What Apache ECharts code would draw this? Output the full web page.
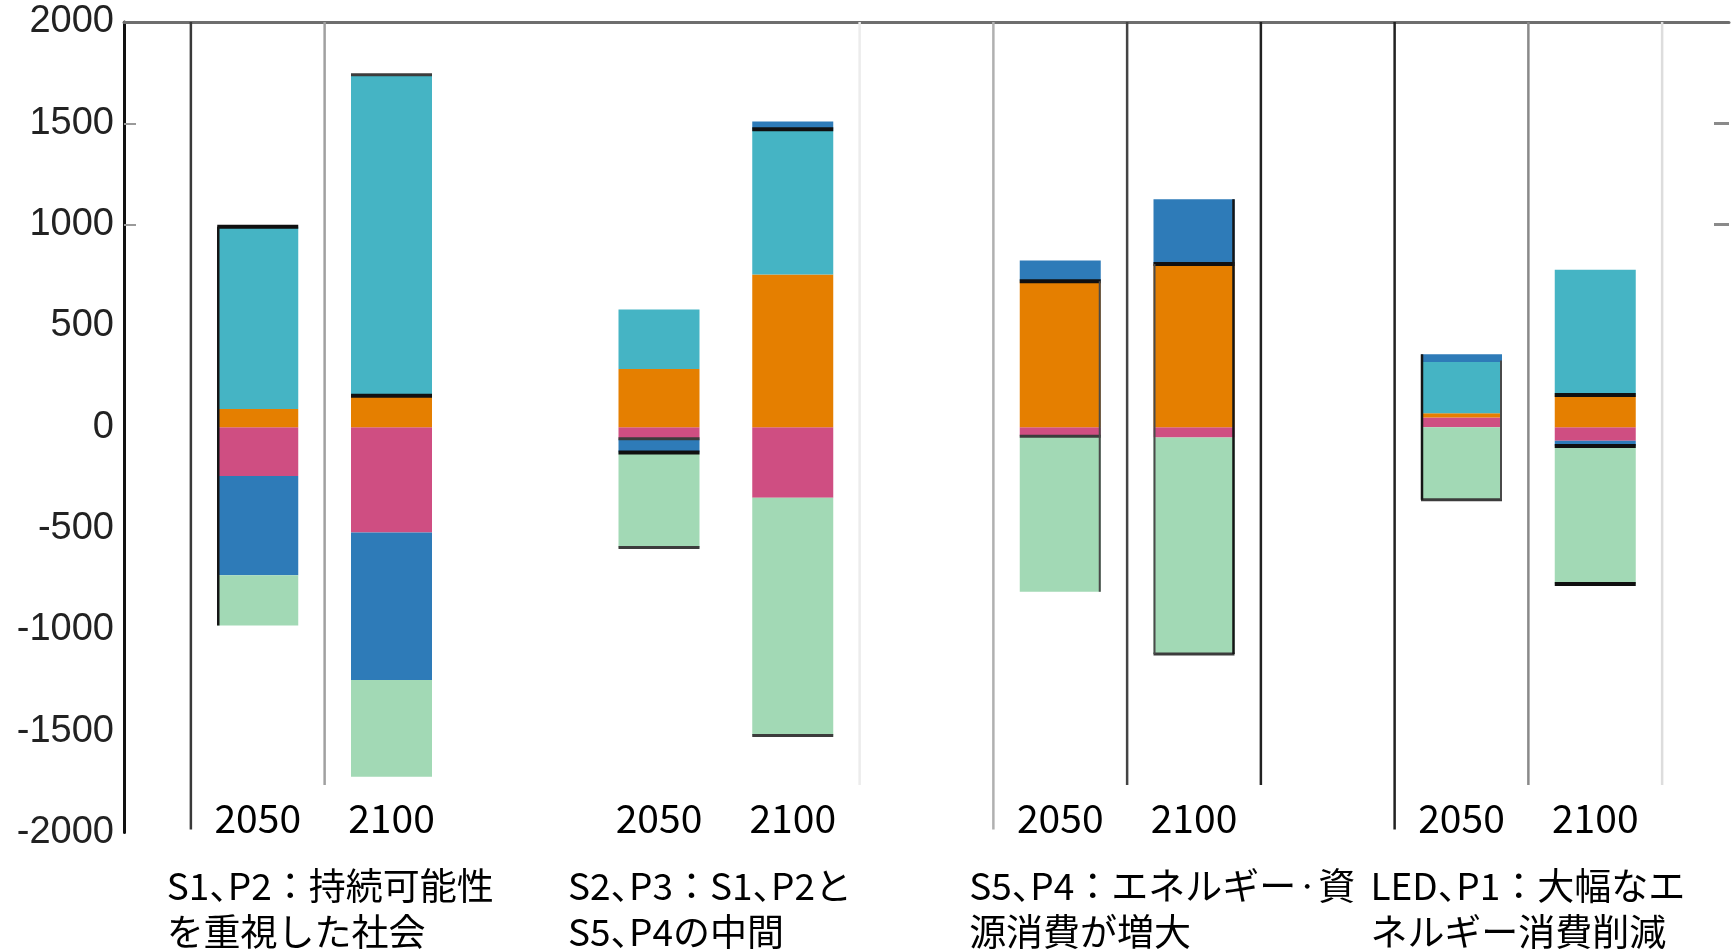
<!DOCTYPE html>
<html>
<head>
<meta charset="utf-8">
<script src="https://cdn.jsdelivr.net/npm/echarts@6/dist/echarts.min.js"></script>
<style>
html,body{margin:0;padding:0;background:#ffffff;}
#chart{width:1732px;height:950px;}
</style>
</head>
<body>
<div id="chart"></div>
<script>
// ---------------- data ----------------
// slot tick labels (empty slots separate the scenario groups)
const slotLabels = ['', '2050', '2100', '', '2050', '2100', '', '2050', '2100', '', '2050', '2100', ''];
const scenarioNames = [
  'S1、P2：持続可能性\nを重視した社会',
  'S2、P3：S1、P2と\nS5、P4の中間',
  'S5、P4：エネルギー・資\n源消費が増大',
  'LED、P1：大幅なエ\nネルギー消費削減'
];
const yTickValues = [-2000, -1500, -1000, -500, 0, 500, 1000, 1500, 2000];

// values per bar: S1-2050, S1-2100, S2-2050, S2-2100, S5-2050, S5-2100, LED-2050, LED-2100
const foodCrops   = [-240, -520,  -57, -348,  -44,   -51,   48,  -67];
const energyCrops = [  90,  155,  287,  754,  721,   806,   21,  159];
const forest      = [ 900, 1585,  294,  717,    0,     0,  253,  618];
const pasture     = [-490, -727,  -68,   38,  102,   319,   38,  -25];
const otherLand   = [-248, -478, -468, -1173, -768, -1068, -358, -682];

// dark outline levels drawn on the bars: [bar index, value]
const outlineStrong = [[0, 990], [1, 155], [2, -125], [3, 1471], [4, 721], [5, 806], [7, 159], [7, -92], [7, -774]];
const outlineSoft   = [[1, 1740], [2, -57], [2, -593], [3, -1521], [4, -44], [5, -1119], [6, -358]];
// dark bar edges: [bar index, side(-1 left / 1 right), from value, to value]
const edgeStrong = [[0, -1, 990, -978], [5, 1, 1125, -1119], [6, -1, 360, -358]];
const edgeSoft   = [[4, 1, 721, -812], [5, -1, 806, -1119], [6, 1, 330, -358]];

// panel separators (slot boundaries) and how far down they reach
const separatorX      = [0.5, 1.5, 5.5, 6.5, 7.5, 8.5, 9.5, 10.5, 11.5];
const separatorBottom = [-1985, -1765, -1765, -1985, -1765, -1765, -1985, -1765, -1765];

// ---------------- styles ----------------
const segmentColors = ['#CF4E82', '#E57F00', '#45B4C4', '#2E7BB8', '#A2D9B5'];
const segmentNames = ['食料・飼料作物', 'エネルギー作物', '森林', '牧草地', 'その他の自然地'];
const separatorColors = ['#3a3a3a', '#a0a0a0', '#ececec', '#b0b0b0', '#444444', '#222222', '#222222', '#8a8a8a', '#dddddd'];
const BAR_W = 81;
const NAME_FS = 37;

// ---------------- build ----------------
const barSlotIndex = slotLabels.map((s, i) => (s ? i : -1)).filter(i => i >= 0);
function toSlots(values) {
  const arr = slotLabels.map(() => null);
  barSlotIndex.forEach((slot, k) => { arr[slot] = values[k]; });
  return arr;
}
const segmentData = [foodCrops, energyCrops, forest, pasture, otherLand];

const barSeries = segmentData.map((vals, i) => ({
  type: 'bar',
  name: segmentNames[i],
  stack: 'landuse',
  stackStrategy: 'samesign',
  xAxisIndex: 0,
  yAxisIndex: 0,
  barWidth: BAR_W,
  silent: true,
  itemStyle: { color: segmentColors[i] },
  data: toSlots(vals)
}));

function hLineSeries(list, color, width) {
  return {
    type: 'custom', xAxisIndex: 1, yAxisIndex: 0, silent: true, z: 5,
    data: list.map(d => [barSlotIndex[d[0]], d[1]]),
    renderItem: function (params, api) {
      const p = api.coord([api.value(0), api.value(1)]);
      return { type: 'line', shape: { x1: p[0] - BAR_W / 2, y1: p[1], x2: p[0] + BAR_W / 2, y2: p[1] },
        style: { stroke: color, lineWidth: width } };
    }
  };
}
function vEdgeSeries(list, color, width) {
  return {
    type: 'custom', xAxisIndex: 1, yAxisIndex: 0, silent: true, z: 5,
    data: list.map(d => [barSlotIndex[d[0]], d[2], d[3], d[1]]),
    renderItem: function (params, api) {
      const a = api.coord([api.value(0), api.value(1)]);
      const b = api.coord([api.value(0), api.value(2)]);
      const x = a[0] + api.value(3) * (BAR_W / 2 - 1);
      return { type: 'line', shape: { x1: x, y1: a[1], x2: x, y2: b[1] },
        style: { stroke: color, lineWidth: width } };
    }
  };
}

const separatorSeries = {
  type: 'custom', xAxisIndex: 1, yAxisIndex: 0, silent: true, z: 1,
  data: separatorX.map((x, i) => [x, separatorBottom[i]]),
  renderItem: function (params, api) {
    const top = api.coord([api.value(0), yTickValues[yTickValues.length - 1]]);
    const bot = api.coord([api.value(0), api.value(1)]);
    return { type: 'line', shape: { x1: top[0], y1: top[1], x2: bot[0], y2: bot[1] },
      style: { stroke: separatorColors[params.dataIndex], lineWidth: 2.5 } };
  }
};

// turn a scenario name into rich tokens (narrow Japanese comma / middle dot like the original font)
function richLine(line) {
  let out = '', buf = '';
  const flush = () => { if (buf) { out += '{a|' + buf + '}'; buf = ''; } };
  for (const ch of line) {
    if (ch === '、') { flush(); out += '{c|、}'; }
    else if (ch === '・') { flush(); out += '{d|・}'; }
    else buf += ch;
  }
  flush();
  return out;
}
const nameBase = { align: 'left', fontSize: NAME_FS, lineHeight: 46, color: '#000', fontFamily: 'Noto Sans CJK JP' };

const option = {
  animation: false,
  backgroundColor: '#ffffff',
  grid: { left: 124, right: 0, top: 22, bottom: 116, containLabel: false },
  xAxis: [
    {
      type: 'category', data: slotLabels, boundaryGap: false, position: 'bottom', offset: -42,
      axisLine: { show: false, onZero: false }, axisTick: { show: false }, splitLine: { show: false },
      axisLabel: { interval: 0, margin: 8, fontSize: 39, color: '#000', fontFamily: 'Noto Sans CJK JP' }
    },
    {
      type: 'value', min: 0, max: 12, position: 'top',
      axisLine: { show: true, onZero: false, lineStyle: { color: '#6e6e6e', width: 3 } },
      axisTick: { show: false }, axisLabel: { show: false }, splitLine: { show: false }
    },
    {
      type: 'category', data: scenarioNames, boundaryGap: true, position: 'bottom', offset: 0,
      axisLine: { show: false, onZero: false }, axisTick: { show: false }, splitLine: { show: false },
      axisLabel: {
        interval: 0, margin: 30, color: '#000', width: 316, overflow: 'none', align: 'center',
        formatter: v => v.split('\n').map(richLine).join('\n'),
        rich: {
          a: nameBase,
          c: Object.assign({}, nameBase, { width: NAME_FS * 0.5 }),
          d: Object.assign({}, nameBase, { fontSize: 22 })
        }
      }
    }
  ],
  yAxis: [
    {
      type: 'value', min: yTickValues[0], max: yTickValues[yTickValues.length - 1], interval: 500, position: 'left',
      axisLine: { show: true, onZero: false, lineStyle: { color: '#111', width: 3 } },
      axisTick: { show: true, inside: true, length: 12, customValues: [1000, 1500], lineStyle: { color: '#9a9a9a', width: 2 } },
      axisLabel: { fontFamily: 'Liberation Sans', fontSize: 38, color: '#222', margin: 10,
        customValues: yTickValues, formatter: v => String(v) },
      splitLine: { show: false }
    },
    {
      type: 'value', min: yTickValues[0], max: yTickValues[yTickValues.length - 1], interval: 500, position: 'right',
      axisLine: { show: false, onZero: false },
      axisTick: { show: true, inside: true, length: 15, customValues: [1000, 1500], lineStyle: { color: '#8a8a8a', width: 3 } },
      axisLabel: { show: false }, splitLine: { show: false }
    }
  ],
  series: [separatorSeries].concat(barSeries).concat([
    hLineSeries(outlineSoft, '#3c3c3c', 3),
    hLineSeries(outlineStrong, '#101010', 4),
    vEdgeSeries(edgeSoft, '#4a4a4a', 2),
    vEdgeSeries(edgeStrong, '#151515', 2.5)
  ])
};

const chart = echarts.init(document.getElementById('chart'));
chart.setOption(option);
</script>
</body>
</html>
